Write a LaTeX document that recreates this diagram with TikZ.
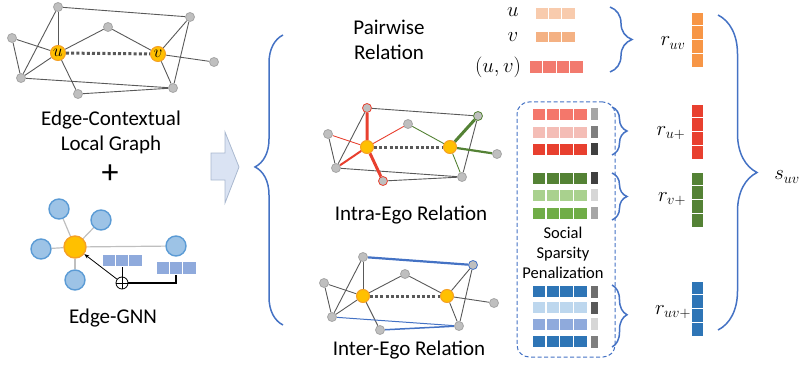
\documentclass[tikz,border=0pt]{standalone}
\usepackage[no-math]{fontspec}
\setmainfont{Carlito}
\usetikzlibrary{positioning, backgrounds, decorations.pathreplacing, arrows.meta}
\definecolor{edgegray}{HTML}{595959}
\definecolor{dotfill}{HTML}{BFBFBF}
\definecolor{dotline}{HTML}{A6A6A6}
\definecolor{egofill}{HTML}{FFC000}
\definecolor{egoline}{HTML}{F5A025}
\definecolor{bracebl}{HTML}{4472C4}
\definecolor{gnnfill}{HTML}{9DC3E6}
\definecolor{gnnline}{HTML}{5B9BD5}
\definecolor{gnnedge}{HTML}{BFBFBF}
\definecolor{featbl}{HTML}{8FAADC}
\definecolor{arrfill}{HTML}{DAE3F3}
\definecolor{arrline}{HTML}{A9B8CF}
\definecolor{intrared}{HTML}{E8402F}
\definecolor{intragreen}{HTML}{548235}
\definecolor{pairu}{HTML}{F8CBAD}
\definecolor{pairv}{HTML}{F4B183}
\definecolor{pairuv}{HTML}{F27A6E}
\definecolor{reluv}{HTML}{F79646}
\definecolor{ssred1}{HTML}{F4776B}
\definecolor{ssred2}{HTML}{F4BDB6}
\definecolor{ssred3}{HTML}{E8402F}
\definecolor{ssgrn1}{HTML}{548235}
\definecolor{ssgrn2}{HTML}{A9D18E}
\definecolor{ssgrn3}{HTML}{70AD47}
\definecolor{ssblu1}{HTML}{2E75B6}
\definecolor{ssblu2}{HTML}{BDD7EE}
\definecolor{ssblu3}{HTML}{8FAADC}
\definecolor{tkA}{HTML}{A6A6A6}
\definecolor{tkB}{HTML}{7F7F7F}
\definecolor{tkC}{HTML}{404040}
\definecolor{tkD}{HTML}{D6D6D6}
\definecolor{tkF}{HTML}{595959}
\definecolor{tkG}{HTML}{6E6E6E}

\begin{document}
\begin{tikzpicture}[
    x=1pt, y=-1pt,
    dot/.style={
        circle, fill=dotfill, draw=dotline, line width=0.8pt,
        minimum size=9pt, inner sep=0pt,
    },
    ego/.style={
        circle, fill=egofill, draw=egoline, line width=1pt,
        minimum size=13pt, inner sep=0pt,
    },
    leaf/.style={
        circle, fill=gnnfill, draw=gnnline, line width=1.4pt,
        minimum size=20pt, inner sep=0pt,
    },
    link/.style={draw=edgegray, line width=0.9pt},
    pair/.style={draw=edgegray, line width=3pt, dash pattern=on 3pt off 2.2pt},
    heading/.style={font=\fontsize{21}{25}\selectfont, align=center, inner sep=0pt},
    mathtag/.style={font=\fontsize{20}{24}\selectfont, inner sep=0pt},
    cell/.style={
        rectangle, draw=white, line width=0.8pt,
        minimum width=13.5pt, minimum height=12pt, inner sep=0pt,
    },
    vcell/.style={
        rectangle, draw=white, line width=0.8pt,
        minimum width=12pt, minimum height=13.75pt, inner sep=0pt,
    },
    tick/.style={rectangle, minimum width=7pt, minimum height=12pt, inner sep=0pt},
    brc/.style={
        decorate, decoration={brace, amplitude=#1},
        draw=bracebl, line width=1.5pt,
    },
]
\useasboundingbox (0,0) rectangle (801,369);

% edge-contextual local graph
\node[dot] (c1) at (58,7) {};
\node[dot] (c2) at (190,17) {};
\node[dot] (c3) at (12,38) {};
\node[dot] (c4) at (108,27) {};
\node[dot] (c5) at (214,62) {};
\node[dot] (c6) at (21,78) {};
\node[dot] (c7) at (78,94) {};
\node[dot] (c8) at (173,88) {};
\node[ego, minimum size=15pt, font=\fontsize{18}{18}\selectfont] (cu) at (58,53) {$u$};
\node[ego, minimum size=15pt, font=\fontsize{18}{18}\selectfont] (cv) at (158,54) {$v$};
\begin{scope}[on background layer]
\foreach \s/\t in {1/2, 1/u, 1/6, 3/u, 3/6, 6/u, u/4, 4/v, u/7, 7/8, 6/8, v/2, v/5, v/8, 2/8}
    \draw[link] (c\s) -- (c\t);
\draw[pair] (cu) -- (cv);
\end{scope}
\node[heading] (ecl) at (111,132.5) {Edge-Contextual\\Local Graph};
\node[font=\fontsize{34}{34}\selectfont, inner sep=0pt] (plus) at (110,174) {+};

% edge-gnn
\node[ego, minimum size=22pt, line width=1.4pt] (gc) at (75,247) {};
\node[leaf] (g1) at (59,209) {};
\node[leaf] (g2) at (101,220) {};
\node[leaf] (g3) at (41,249) {};
\node[leaf] (g4) at (75,280) {};
\node[leaf] (g5) at (176,246) {};
\begin{scope}[on background layer]
\foreach \t in {1,...,5}
    \draw[draw=gnnedge, line width=1.2pt] (gc) -- (g\t);
\end{scope}
\foreach \i in {0,1,2} {
    \node[cell, fill=featbl, minimum width=13.3pt, minimum height=12.5pt] (fa\i) at (108.7+13.3*\i,260.5) {};
    \node[cell, fill=featbl, minimum width=13.3pt, minimum height=12.5pt] (fb\i) at (162.7+13.3*\i,268) {};
}
\node[circle, draw, fill=white, line width=0.8pt, minimum size=12pt, inner sep=0pt] (op) at (122,283) {};
\draw[line width=0.8pt] (op.north) -- (op.south) (op.east) -- (op.west);
\draw[line width=0.8pt] (fa1.south) -- (op.north);
\draw[line width=2pt] (op.east) -| (fb1.south);
\draw[-{Stealth[length=5pt]}, line width=0.8pt] (op) -- (gc);
\node[heading] (egnn) at (113,318) {Edge-GNN};

% block arrow and left brace
\draw[fill=arrfill, draw=arrline, line width=0.8pt]
    (211,153) -- (225,153) -- (225,132) -- (239,167) -- (225,203) -- (225,180) -- (211,180) -- cycle;
\coordinate (lbrb) at (283,325);
\coordinate (lbrt) at (283,35);
\draw[brc=28, decoration={aspect=0.545}] (lbrb) -- (lbrt);

% pairwise relation
\node[heading] (pw) at (389,39.5) {Pairwise\\Relation};
\node[mathtag] (lu) at (513,12) {$u$};
\node[mathtag] (lv) at (513,37) {$v$};
\node[mathtag] (luv) at (498,67) {$(u,v)$};
\foreach \i in {0,1,2} {
    \node[cell, fill=pairu, minimum width=13.3pt, minimum height=11.5pt] (ucell\i) at (541.7+13.3*\i,13.5) {};
    \node[cell, fill=pairv, minimum width=13.3pt, minimum height=11.5pt] (vcell\i) at (541.7+13.3*\i,37) {};
}
\foreach \i in {0,...,3}
    \node[cell, fill=pairuv, minimum height=13pt] (uvcell\i) at (535.75+13.5*\i,66.5) {};

% intra-ego relation
\node[dot, draw=intrared] (a1) at (367,108) {};
\node[dot, draw=intragreen] (a2) at (478,116) {};
\node[dot] (a3) at (328,134) {};
\node[dot] (a4) at (408,124) {};
\node[dot] (a5) at (497,154) {};
\node[dot] (a6) at (336,168) {};
\node[dot, draw=intrared] (a7) at (383,181) {};
\node[dot] (a8) at (462,177) {};
\node[ego] (au) at (367,147) {};
\node[ego] (av) at (450,147) {};
\begin{scope}[on background layer]
\foreach \s/\t in {1/2, 1/6, 3/6, 7/8, 6/8, 2/8}
    \draw[link] (a\s) -- (a\t);
\draw[intrared, line width=3pt] (a1) -- (au) (au) -- (a7);
\draw[intrared, line width=2pt] (a6) -- (au);
\draw[intrared, line width=0.9pt] (a3) -- (au) (au) -- (a4);
\draw[intragreen, line width=3pt] (av) -- (a2);
\draw[intragreen, line width=2.2pt] (av) -- (a5);
\draw[intragreen, line width=0.9pt] (a4) -- (av) (av) -- (a8);
\draw[pair] (au) -- (av);
\end{scope}
\node[heading] (intra) at (411,215) {Intra-Ego Relation};

% inter-ego relation
\node[dot] (b1) at (363,257) {};
\node[dot, draw=bracebl] (b2) at (473,265) {};
\node[dot] (b3) at (324,283) {};
\node[dot] (b4) at (405,274) {};
\node[dot] (b5) at (494,303) {};
\node[dot] (b6) at (332,317) {};
\node[dot] (b7) at (380,330) {};
\node[dot] (b8) at (459,326) {};
\node[ego] (bu) at (363,296) {};
\node[ego] (bv) at (447,296) {};
\begin{scope}[on background layer]
\foreach \s/\t in {1/u, 1/6, 3/u, 3/6, 6/u, u/4, 4/v, u/7, v/2, v/5, v/8, 2/8}
    \draw[link] (b\s) -- (b\t);
\draw[bracebl, line width=2.2pt] (b1) -- (b2);
\draw[bracebl, line width=1.5pt] (b7) -- (b8);
\draw[bracebl, line width=1pt] (b6) -- (b8);
\draw[pair] (bu) -- (bv);
\end{scope}
\node[heading] (inter) at (409,350) {Inter-Ego Relation};

% social sparsity penalization
\node[draw=bracebl, dash pattern=on 4pt off 2.5pt, rounded corners=12pt, line width=1pt,
      minimum width=98pt, minimum height=255pt] (ssp) at (566,229.5) {};
\foreach \y/\c/\g [count=\r] in {114/ssred1/tkA, 132/ssred2/tkB, 149/ssred3/tkC,
        178/ssgrn1/tkC, 195/ssgrn2/tkD, 213/ssgrn3/tkA,
        291.5/ssblu1/tkG, 307.5/ssblu2/tkF, 324/ssblu3/tkD, 341.5/ssblu1/tkB} {
    \foreach \i in {0,...,3}
        \node[cell, fill=\c] (row\r-\i) at (538.9+13.75*\i,\y) {};
    \node[tick, fill=\g] (tk\r) at (594.5,\y) {};
}
\node[font=\fontsize{16.5}{20}\selectfont, align=center, inner sep=0pt] (ssptxt) at (563,253) {Social\\Sparsity\\Penalization};

% braces into the relation vectors
\coordinate (pbt) at (610,7);   \coordinate (pbb) at (610,72);
\coordinate (rbt) at (612,107); \coordinate (rbb) at (612,155);
\coordinate (gbt) at (612,173); \coordinate (gbb) at (612,220);
\coordinate (bbt) at (612,285); \coordinate (bbb) at (612,347);
\draw[brc=22] (pbt) -- (pbb);
\draw[brc=15] (rbt) -- (rbb);
\draw[brc=15] (gbt) -- (gbb);
\draw[brc=15, decoration={aspect=0.48}] (bbt) -- (bbb);

% relation vectors
\foreach \y/\c/\n in {12/reluv/ruv, 104/ssred3/ru, 172/ssgrn1/rv, 281/ssblu1/ruvp}
    \foreach \i in {0,...,3}
        \node[vcell, fill=\c] (\n-\i) at (697,\y+6.9+13.75*\i) {};
\node[mathtag] (lruv) at (673,43) {$r_{uv}$};
\node[mathtag] (lru) at (671,133) {$r_{u+}$};
\node[mathtag] (lrv) at (672,199) {$r_{v+}$};
\node[mathtag] (lruvp) at (673,312) {$r_{uv+}$};

% final brace
\coordinate (fbt) at (718,15);
\coordinate (fbb) at (718,330);
\draw[brc=39] (fbt) -- (fbb);
\node[mathtag] (suv) at (787,177) {$s_{uv}$};
\end{tikzpicture}
\end{document}
